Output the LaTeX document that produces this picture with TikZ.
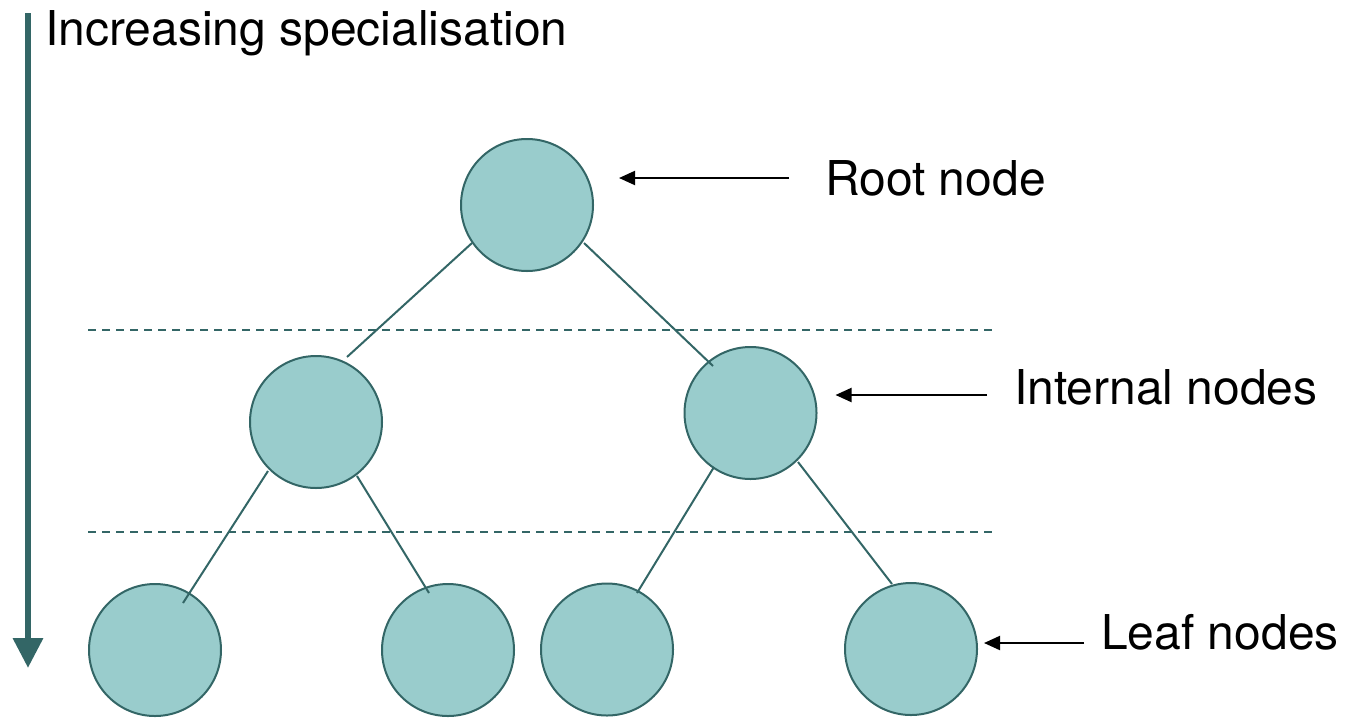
\documentclass[tikz,border=0pt]{standalone}
\usepackage{fontspec}
\setmainfont{TeX Gyre Heros}
\usetikzlibrary{arrows.meta,calc}
\definecolor{tealfill}{HTML}{99CCCC}
\definecolor{tealline}{HTML}{336666}
\tikzset{
  treenode/.style={circle, draw=tealline, fill=tealfill, line width=2pt,
    minimum size=132pt, inner sep=0pt},
  branch/.style={draw=tealline, line width=2pt},
  level/.style={draw=tealline, line width=2pt, dash pattern=on 8pt off 6pt},
  pointer/.style={draw=black, line width=2pt, -{Triangle[length=16pt,width=14pt]}},
  caption/.style={inner sep=0pt, anchor=base west, font=\fontsize{48}{57}\selectfont}
}
\begin{document}
\begin{tikzpicture}[x=1pt,y=-1pt]
\useasboundingbox (0,0) rectangle (1348,718);

% direction of specialisation
\draw[draw=tealline, line width=6.5pt, -{Triangle[length=30pt,width=29pt]}] (28,13) -- (28,668);
\node[caption] (title) at (45,45) {Increasing specialisation};

% level separators
\draw[level] (88,330) -- (993,330);
\draw[level] (88,532) -- (993,532);

% tree nodes
\node[treenode] (root) at (527,205) {};
\node[treenode] (intL) at (316,422) {};
\node[treenode] (intR) at (750.5,413) {};
\node[treenode] (leafA) at (155,650) {};
\node[treenode] (leafB) at (448,650) {};
\node[treenode] (leafC) at (607,649.5) {};
\node[treenode] (leafD) at (911,649) {};

% branches
\draw[branch] ($(root.center)+(-55,38)$) -- ($(intL.center)+(31,-65)$);
\draw[branch] ($(root.center)+(57,38)$) -- ($(intR.center)+(-37.5,-47)$);
\draw[branch] ($(intL.center)+(-48,49)$) -- ($(leafA.center)+(28,-47)$);
\draw[branch] ($(intL.center)+(41,54)$) -- ($(leafB.center)+(-19,-57)$);
\draw[branch] ($(intR.center)+(-36.5,54)$) -- ($(leafC.center)+(30,-56.5)$);
\draw[branch] ($(intR.center)+(47.5,49)$) -- ($(leafD.center)+(-19,-65)$);

% labels
\node[caption] (rootlbl) at (825,195) {Root node};
\node[caption] (intlbl) at (1014,404) {Internal nodes};
\node[caption] (leaflbl) at (1101,649) {Leaf nodes};

\coordinate (rootptr) at (789,178);
\coordinate (intptr) at (987,395);
\coordinate (leafptr) at (1084,643);
\draw[pointer] (rootptr) -- ($(root.center)+(92,-27)$);
\draw[pointer] (intptr) -- ($(intR.center)+(85,-18)$);
\draw[pointer] (leafptr) -- ($(leafD.center)+(73,-6)$);
\end{tikzpicture}
\end{document}
